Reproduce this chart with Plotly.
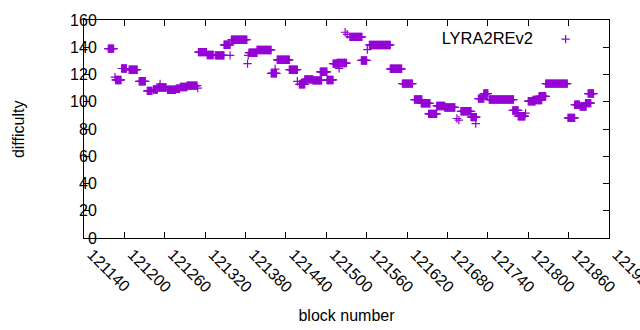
import plotly.graph_objects as go

# Runs of equal difficulty: first block, last block, difficulty
run_first = [121176, 121186, 121187, 121196, 121207, 121222, 121234, 121243, 121253, 121250,
             121264, 121277, 121283, 121293, 121309, 121310, 121323, 121335, 121348, 121357,
             121359, 121383, 121384, 121385, 121397, 121418, 121424, 121427, 121445, 121457,
             121460, 121468, 121480, 121491, 121501, 121510, 121516, 121519, 121528, 121531,
             121535, 121552, 121561, 121564, 121595, 121613, 121631, 121641, 121652, 121664,
             121676, 121694, 121697, 121700, 121715, 121722, 121726, 121734, 121742, 121777,
             121785, 121796, 121800, 121807, 121816, 121826, 121859, 121869, 121877, 121885,
             121889]
run_last = [121184, 121186, 121195, 121203, 121219, 121231, 121241, 121249, 121253, 121262,
            121276, 121282, 121293, 121308, 121309, 121322, 121332, 121348, 121357, 121357,
            121382, 121383, 121384, 121397, 121418, 121426, 121424, 121445, 121457, 121457,
            121468, 121480, 121493, 121501, 121510, 121519, 121530, 121519, 121528, 121531,
            121553, 121560, 121561, 121595, 121612, 121628, 121642, 121654, 121664, 121676,
            121691, 121694, 121697, 121715, 121723, 121722, 121734, 121740, 121778, 121785,
            121795, 121796, 121810, 121820, 121826, 121858, 121869, 121876, 121886, 121893,
            121897]
run_diff = [139, 118, 116, 124.4, 123.5, 115, 108, 109, 113, 110.5,
            108.8, 109.5, 110.8, 111.8, 110, 136.4, 134.3, 134, 141.8, 134,
            145.5, 128, 134, 136, 138, 120.8, 124, 130.8, 123.5, 115,
            112.8, 116.4, 115.7, 122, 116, 128, 128.4, 124.5, 151, 149.5,
            147.6, 130.3, 138.3, 141.7, 124.2, 113.3, 101.6, 98.9, 91.1, 96.9,
            95.8, 87.7, 86.5, 93, 88.7, 84, 102.3, 106, 101.6, 93.6,
            89.4, 91.6, 100.4, 101.3, 104, 113.3, 88.2, 97.8, 96.5, 99,
            106]

x_ticks = [121140, 121200, 121260, 121320, 121380, 121440, 121500,
           121560, 121620, 121680, 121740, 121800, 121860, 121920]
y_ticks = [0, 20, 40, 60, 80, 100, 120, 140, 160]

blocks, diffs = [], []
for a, b, d in zip(run_first, run_last, run_diff):
    for k in range(a, b + 1):
        blocks.append(k)
        diffs.append(d)

PURPLE = "#9400d3"
FONT = "Liberation Sans"
FS = 16

fig = go.Figure()
fig.add_trace(go.Scatter(
    x=blocks, y=diffs, mode="markers", name="",
    marker=dict(symbol="cross-thin", size=6, color=PURPLE,
                line=dict(color=PURPLE, width=1.2)),
    showlegend=True,
))

axis_common = dict(showline=True, linecolor="black", linewidth=1, mirror="ticks",
                   ticks="inside", ticklen=6, tickcolor="black", showgrid=False,
                   zeroline=False, automargin=False,
                   tickfont=dict(family=FONT, size=FS, color="black"))

fig.update_layout(
    width=640, height=330,
    margin=dict(l=84, r=31, t=20, b=92),
    paper_bgcolor="white", plot_bgcolor="white",
    font=dict(family=FONT, size=FS, color="black"),
    xaxis=dict(range=[121140, 121920], tickvals=x_ticks,
               ticktext=[str(v) for v in x_ticks], tickangle=45,
               ticklabeloverflow="allow", ticklabelshift=8,
               title=dict(text="block number", font=dict(family=FONT, size=FS), standoff=14),
               **axis_common),
    yaxis=dict(range=[0, 160], tickvals=y_ticks, ticklabelstandoff=-17,
               ticklabelposition="outside",
               **axis_common),
    legend=dict(x=0.965, xanchor="right", y=0.99, yanchor="top",
                bgcolor="rgba(0,0,0,0)", font=dict(family=FONT, size=FS),
                title=dict(text="LYRA2REv2\u00a0", side="left",
                           font=dict(family=FONT, size=16.5)),
                itemwidth=30),
    annotations=[dict(text="difficulty", xref="paper", yref="paper",
                      x=-0.1255, y=0.5, xanchor="center", yanchor="middle",
                      textangle=-90, showarrow=False,
                      font=dict(family=FONT, size=FS, color="black"))],
)

fig.write_html("out.html", post_script="document.body.style.margin='0';",
               config={"displayModeBar": False})
